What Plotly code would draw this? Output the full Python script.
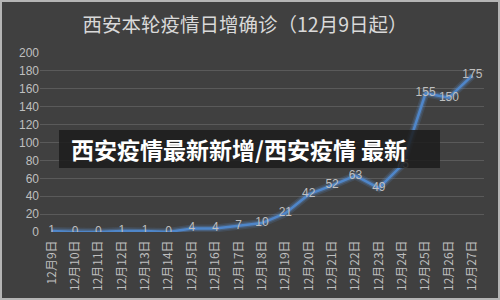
import plotly.graph_objects as go

dates = ["12月9日", "12月10日", "12月11日", "12月12日", "12月13日", "12月14日", "12月15日",
         "12月16日", "12月17日", "12月18日", "12月19日", "12月20日", "12月21日", "12月22日",
         "12月23日", "12月24日", "12月25日", "12月26日", "12月27日"]
cases = [1, 0, 0, 1, 1, 0, 4, 4, 7, 10, 21, 42, 52, 63, 49, 75, 155, 150, 175]
y_ticks = [0, 20, 40, 60, 80, 100, 120, 140, 160, 180, 200]
title_text = "西安本轮疫情日增确诊（12月9日起）"
banner_text = "西安疫情最新新增/西安疫情 最新"

W, H = 500, 300
L, R, T, B = 40, 16, 53, 68
PW, PH = W - L - R, H - T - B


def px(x):
    return (x - L) / PW


def py(y):
    return (H - B - y) / PH


fig = go.Figure()
# glow
fig.add_trace(go.Scatter(x=dates, y=cases, mode="lines",
                         line=dict(color="rgba(91,155,230,0.15)", width=8),
                         hoverinfo="skip", showlegend=False))
fig.add_trace(go.Scatter(x=dates, y=cases, mode="lines",
                         line=dict(color="rgba(91,155,230,0.25)", width=5),
                         hoverinfo="skip", showlegend=False))
fig.add_trace(go.Scatter(x=dates, y=cases, mode="lines+text",
                         line=dict(color="#4f86c9", width=2.5),
                         text=[str(v) for v in cases], textposition="middle center",
                         textfont=dict(family="Liberation Sans, Arial, sans-serif", size=12, color="#bfbfbf"),
                         showlegend=False))

fig.update_layout(
    width=W, height=H,
    margin=dict(l=L, r=R, t=T, b=B, autoexpand=False),
    paper_bgcolor="#404040", plot_bgcolor="#404040",
    title=dict(text=title_text, x=0.49, xanchor="center", y=1 - 25 / H, yanchor="middle",
               font=dict(family="Noto Sans CJK SC, sans-serif", size=19.5, color="#d9d9d9")),
    xaxis=dict(type="category", range=[-0.5, 18.5], showgrid=False, zeroline=False,
               showline=False, tickangle=-90, ticks="", ticklabelstandoff=5, automargin=False,
               tickfont=dict(family="Noto Sans CJK SC, sans-serif", size=12, color="#bfbfbf")),
    yaxis=dict(range=[0, 200], tickvals=y_ticks, showgrid=True, gridcolor="#5a5a5a",
               gridwidth=1, zeroline=False, showline=False, ticks="", automargin=False,
               tickfont=dict(family="Liberation Sans, Arial, sans-serif", size=12, color="#bfbfbf")),
    shapes=[
        dict(type="rect", xref="paper", yref="paper", x0=px(59), x1=px(440), y0=py(168), y1=py(130),
             fillcolor="rgba(28,28,28,0.85)", line=dict(width=0), layer="above"),
        dict(type="rect", xref="paper", yref="paper", x0=px(1), x1=px(499), y0=py(299), y1=py(1),
             fillcolor="rgba(0,0,0,0)", line=dict(color="#b5b5b5", width=2), layer="above"),
    ],
    annotations=[
        dict(text=banner_text, xref="paper", yref="paper", x=px(69), y=py(149),
             xanchor="left", yanchor="middle", showarrow=False,
             font=dict(family="Noto Sans CJK SC, sans-serif", size=23, color="#ffffff", weight="bold")),
    ],
)

fig.write_html("out.html")
